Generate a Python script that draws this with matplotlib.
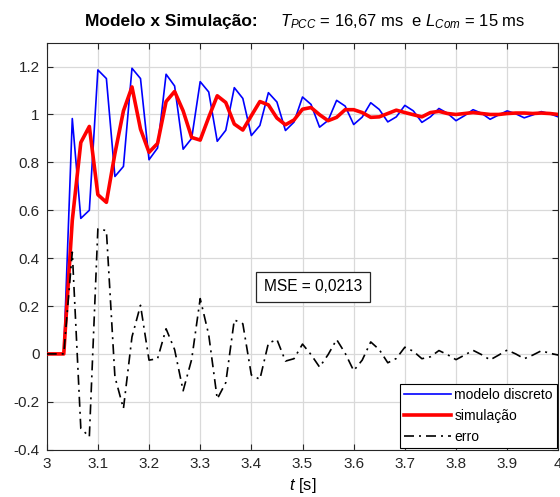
import numpy as np
import matplotlib
matplotlib.use("Agg")
import matplotlib.pyplot as plt

plt.rcParams['font.family'] = ['Liberation Sans', 'DejaVu Sans']
plt.rcParams['mathtext.fontset'] = 'custom'
plt.rcParams['mathtext.rm'] = 'Liberation Sans'
plt.rcParams['mathtext.it'] = 'Liberation Sans:italic'
plt.rcParams['mathtext.bf'] = 'Liberation Sans:bold'

# sample index (t = 3 + n/60 s)
n_samples = list(range(61))

modelo_discreto = [
    0, 0, 0, 0.983, 0.566, 0.600, 1.186, 1.150, 0.741, 0.783,
    1.193, 1.150, 0.811, 0.860, 1.168, 1.119, 0.855, 0.900, 1.137, 1.094,
    0.888, 0.934, 1.112, 1.067, 0.912, 0.954, 1.091, 1.052, 0.933, 0.968,
    1.073, 1.042, 0.947, 0.975, 1.059, 1.035, 0.958, 0.989, 1.049, 1.021,
    0.969, 0.990, 1.038, 1.015, 0.967, 0.990, 1.025, 1.005, 0.974, 0.995,
    1.020, 1.005, 0.980, 0.998, 1.015, 1.003, 0.986, 0.998, 1.012, 1.003,
    0.990]

simulacao = [
    0, 0, 0, 0.558, 0.883, 0.950, 0.665, 0.633, 0.837, 1.015,
    1.115, 0.939, 0.842, 0.879, 1.054, 1.096, 1.015, 0.904, 0.893, 0.988,
    1.078, 1.050, 0.960, 0.935, 0.995, 1.054, 1.040, 0.985, 0.957, 0.977,
    1.022, 1.029, 0.999, 0.974, 0.988, 1.020, 1.020, 1.008, 0.988, 0.990,
    1.004, 1.018, 1.008, 0.999, 0.990, 1.008, 1.013, 1.004, 1.000, 1.004,
    1.008, 1.004, 1.000, 1.000, 1.004, 1.006, 1.006, 1.004, 1.006, 1.004,
    1.000]

erro = [
    0, 0, 0, 0.425, -0.311, -0.346, 0.522, 0.515, -0.096, -0.228,
    0.071, 0.203, -0.026, -0.020, 0.105, 0.018, -0.154, -0.023, 0.231, 0.080,
    -0.188, -0.120, 0.142, 0.126, -0.088, -0.106, 0.045, 0.060, -0.030, -0.020,
    0.041, -0.003, -0.055, -0.003, 0.060, 0.003, -0.070, -0.026, 0.050, 0.018,
    -0.037, -0.019, 0.028, 0.011, -0.020, -0.012, 0.014, -0.003, -0.024, -0.005,
    0.015, -0.003, -0.025, -0.005, 0.016, 0.000, -0.020, -0.005, 0.013, 0.003,
    -0.005]

x_ticks = [3, 3.1, 3.2, 3.3, 3.4, 3.5, 3.6, 3.7, 3.8, 3.9, 4]
x_tick_labels = ['3', '3.1', '3.2', '3.3', '3.4', '3.5', '3.6', '3.7', '3.8', '3.9', '4']
y_ticks = [-0.4, -0.2, 0, 0.2, 0.4, 0.6, 0.8, 1, 1.2]
y_tick_labels = ['-0.4', '-0.2', '0', '0.2', '0.4', '0.6', '0.8', '1', '1.2']

t = 3 + np.array(n_samples) / 60.0

fig = plt.figure(figsize=(5.6, 4.97), dpi=100)
ax = fig.add_axes([0.0834, 0.0952, 0.9136, 0.819])

ax.plot(t, modelo_discreto, color=(0, 0, 1), lw=1.2, label='modelo discreto', zorder=3)
ax.plot(t, simulacao, color=(1, 0, 0), lw=2.6, label='simulação', zorder=4)
ax.plot(t, erro, color='black', lw=1.2, ls=(0, (6, 3, 1.2, 3)), label='erro', zorder=5)

ax.set_xlim(3, 4)
ax.set_ylim(-0.4, 1.3)
ax.set_xticks(x_ticks)
ax.set_xticklabels(x_tick_labels)
ax.set_yticks(y_ticks)
ax.set_yticklabels(y_tick_labels)
ax.tick_params(direction='in', top=True, right=True, labelsize=11, length=4,
               width=0.8, colors='#262626', pad=5)
ax.grid(True, color='#d9d9d9', lw=0.9)
ax.set_axisbelow(True)
for s in ax.spines.values():
    s.set_color('#262626')
    s.set_linewidth(0.8)

ax.set_xlabel('$t$ [s]', fontsize=12, labelpad=4)

leg = ax.legend(loc='lower right', fontsize=10, frameon=True, fancybox=False,
                edgecolor='black', framealpha=1, borderaxespad=0.1,
                handlelength=3.4, handletextpad=0.2, borderpad=0.3,
                labelspacing=0.5)
leg.get_frame().set_linewidth(0.8)

ax.text(3.52, 0.28, 'MSE = 0,0213', fontsize=11.2, ha='center', va='center',
        bbox=dict(boxstyle='square,pad=0.5', fc='white', ec='#262626', lw=0.9),
        zorder=6)

fig.text(0.152, 0.948, 'Modelo x Simulação:', fontsize=12.5, fontweight='bold',
         ha='left', va='baseline')
fig.text(0.5, 0.948, r'$T_{PCC}$ = 16,67 ms  e $L_{Com}$ = 15 ms', fontsize=12,
         ha='left', va='baseline')

fig.savefig('out.png', dpi=100)
